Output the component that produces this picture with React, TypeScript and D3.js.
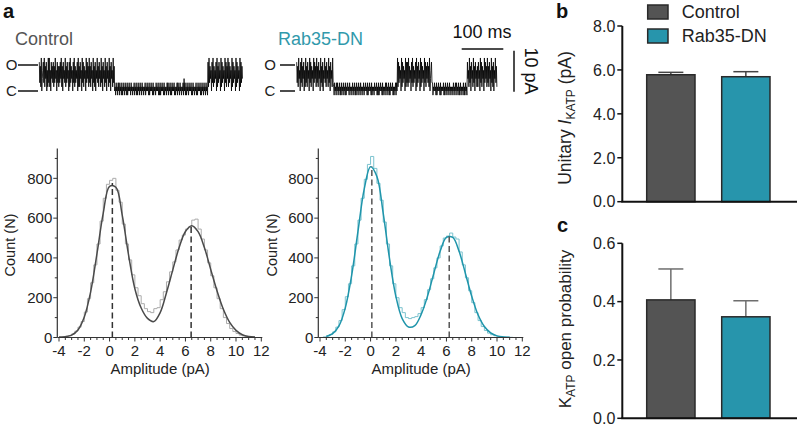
import React from "react";
import * as d3 from "d3";

const FONT = "'Liberation Sans', Arial, Helvetica, sans-serif";
const TEAL = "#2795ac";
const TEAL_TEXT = "#3199ab";
const TEAL_LIGHT = "#7cc3cf";
const DARK = "#545454";

// ---------- traces (digit = current in pA + 1), alternating high / low samples ----------
const TRACE_DT = 1.2; // ms per sample
const controlTrace =
  // open
  "83729146839274816293" + "92618473827394618372" + "73849271846392738461" +
  "82937461839273648192" + "72846193827461938472" + "93728461937281649372" +
  "84629371846293718462" + "937184629371" +
  // closed
  "20312031302130203120" + "31203021312031202130" + "21302031203120312021" +
  "30213120302131203021" + "20312130203021312030" + "21203130213020312130" +
  "20213031203120213041" + "30203120312130203120" + "21302031213020312031" +
  "203120" +
  // open
  "82937461839273648192" + "73846192837461938274" + "92837461928374619283" +
  "7461928374";
const rabTrace =
  // open
  "83729461839274816293" + "72846193827461938472" + "93728461937281649372" +
  "84629371846293" +
  // closed
  "20312031302130203120" + "31203021312031202130" + "21302031203120312021" +
  "30213120302131203021" + "20312130203021312030" + "21203130213020312130" +
  "20213031" +
  // open
  "92837461928374619283" + "82937461839273648192" + "73846192837461938274" +
  "8372914683" +
  // closed
  "30213120302131203021" + "21302031203120312021" + "20312031302130203120" +
  "2130203120" +
  // open
  "84629371846293718462" + "72846193827461938472" + "93728461937281649372";

// ---------- histograms (bin width 0.25 pA) ----------
const BIN_WIDTH = 0.25;
const controlBinStart = -3.75;
const controlHist = [
  3, 5, 9, 18, 32, 52, 80, 128, 195, 275, 365, 470, 585, 700, 770,
  790, 800, 740, 680, 570, 470, 390, 315, 250, 210, 170, 145, 130, 125, 145,
  150, 190, 230, 280, 330, 380, 440, 490, 515, 545, 555, 590, 595, 545, 495,
  440, 375, 310, 250, 195, 145, 100, 70, 45, 30, 20, 12, 8, 5, 3, 2, 0,
];
const rabBinStart = -3.75;
const rabHist = [
  3, 8, 15, 28, 52, 85, 140, 205, 270, 360, 470, 590, 700, 795, 870,
  910, 850, 775, 690, 580, 470, 360, 270, 200, 150, 125, 100, 95, 100, 105,
  120, 150, 190, 240, 295, 350, 400, 460, 500, 510, 525, 505, 495, 430, 365,
  300, 235, 175, 125, 85, 55, 35, 22, 14, 9, 6, 4, 3, 2, 1,
];

// fit curves (sampled every 0.5 pA)
const controlFitX = [
  -4, -3.5, -3, -2.5, -2, -1.5, -1, -0.5, 0, 0.5, 1, 1.5, 2, 2.5, 3, 3.5,
  4, 4.5, 5, 5.5, 6, 6.5, 7, 7.5, 8, 8.5, 9, 9.5, 10, 10.5, 11, 11.5,
];
const controlFitY = [
  2, 4, 12, 38, 103, 228, 420, 625, 760, 755, 615, 415, 245, 148, 96, 80,
  125, 225, 340, 452, 533, 562, 532, 452, 342, 234, 142, 76, 36, 14, 5, 2,
];
const rabFitX = [
  -3.5, -3, -2.5, -2, -1.5, -1, -0.5, 0, 0.5, 1, 1.5, 2, 2.5, 3, 3.5, 4,
  4.5, 5, 5.5, 6, 6.5, 7, 7.5, 8, 8.5, 9, 9.5, 10, 10.5, 11,
];
const rabFitY = [
  5, 19, 58, 149, 311, 532, 747, 858, 809, 624, 395, 207, 95, 53, 60, 116,
  207, 322, 433, 503, 503, 433, 322, 207, 114, 55, 23, 8, 3, 1,
];
const controlPeaks = [0.22, 6.45];
const controlPeakCounts = [776, 562];
const rabPeaks = [0.1, 6.22];
const rabPeakCounts = [862, 512];

const histXTicks = [-4, -2, 0, 2, 4, 6, 8, 10, 12];
const histYTicks = [0, 200, 400, 600, 800];

// ---------- bar charts ----------
const groups = ["Control", "Rab35-DN"];
const groupColors = [DARK, TEAL];
const unitaryMean = [5.78, 5.69];
const unitarySem = [0.11, 0.23];
const unitaryTicks = [0, 2, 4, 6, 8];
const openProbMean = [0.406, 0.348];
const openProbSem = [0.106, 0.055];
const openProbTicks = [0, 0.2, 0.4, 0.6];

function Trace({ data, x0 }: { data: string; x0: number }) {
  const vals = data.split("").map((c) => +c - 1);
  const x = d3.scaleLinear().domain([0, 100]).range([x0, x0 + 41.6]);
  const y = d3.scaleLinear().domain([0, 6.3]).range([91, 65]);
  const line = d3
    .line<number>()
    .x((_, i) => x(i * TRACE_DT))
    .y((d) => y(d));
  return (
    <path d={line(vals) || ""} fill="none" stroke="#000" strokeWidth={0.8} strokeLinejoin="bevel" />
  );
}

function Histogram(props: {
  hist: number[];
  binStart: number;
  fitX: number[];
  fitY: number[];
  peaks: number[];
  peakCounts: number[];
  histColor: string;
  fitColor: string;
  dashColor: string;
  xr: [number, number];
  axisX: number;
  labelX: number;
}) {
  const { hist, binStart, fitX, fitY, peaks, peakCounts, histColor, fitColor, dashColor, xr, axisX, labelX } = props;
  const x = d3.scaleLinear().domain([-4, 12]).range(xr);
  const y = d3.scaleLinear().domain([0, 950]).range([337.5, 148.5]);
  const pts: [number, number][] = [[binStart, 0]];
  hist.forEach((v, i) => pts.push([binStart + i * BIN_WIDTH, v]));
  const lastEdge = binStart + hist.length * BIN_WIDTH;
  pts.push([lastEdge, hist[hist.length - 1]]);
  pts.push([lastEdge, 0]);
  const step = d3
    .line<[number, number]>()
    .x((d) => x(d[0]))
    .y((d) => y(d[1]))
    .curve(d3.curveStepAfter);
  const fit = d3
    .line<number>()
    .x((_, i) => x(fitX[i]))
    .y((d) => y(d))
    .curve(d3.curveCatmullRom.alpha(0.5));
  const minorX = d3.range(-4, 12.001, 0.5);
  const minorY = d3.range(0, 901, 100);
  const axisRight = x(12) + 1;
  return (
    <g fontFamily={FONT}>
      <path d={step(pts) || ""} fill="none" stroke={histColor} strokeWidth={1} />
      <path d={fit(fitY) || ""} fill="none" stroke={fitColor} strokeWidth={1.5} />
      {peaks.map((p, i) => (
        <line
          key={i}
          x1={x(p)}
          x2={x(p)}
          y1={y(0)}
          y2={y(peakCounts[i])}
          stroke={dashColor}
          strokeWidth={1.5}
          strokeDasharray="6 3.5"
        />
      ))}
      <line x1={axisX} x2={axisX} y1={y(950)} y2={y(0)} stroke="#333" strokeWidth={1.2} />
      <line x1={axisX} x2={axisRight} y1={y(0)} y2={y(0)} stroke="#333" strokeWidth={1.2} />
      {minorY.map((t) => (
        <line key={"my" + t} x1={axisX - (t % 200 === 0 ? 4 : 2.5)} x2={axisX} y1={y(t)} y2={y(t)} stroke="#333" strokeWidth={1} />
      ))}
      {minorX.map((t) => (
        <line key={"mx" + t} x1={x(t)} x2={x(t)} y1={y(0)} y2={y(0) + (Math.abs(t % 2) < 1e-6 ? 4 : 2.5)} stroke="#333" strokeWidth={1} />
      ))}
      {histYTicks.map((t) => (
        <text key={"ty" + t} x={axisX - 5} y={y(t)} dy="0.35em" textAnchor="end" fontSize={15} fill="#222">
          {t}
        </text>
      ))}
      {histXTicks.map((t) => (
        <text key={"tx" + t} x={x(t)} y={356} textAnchor="middle" fontSize={15} fill="#222">
          {t}
        </text>
      ))}
      <text x={(xr[0] + xr[1]) / 2} y={374} textAnchor="middle" fontSize={15} fill="#222">
        Amplitude (pA)
      </text>
      <text
        transform={`translate(${labelX},245) rotate(-90)`}
        textAnchor="middle"
        dy="0.35em"
        fontSize={14.5}
        fill="#222"
      >
        Count (N)
      </text>
    </g>
  );
}

function BarChart(props: {
  means: number[];
  sems: number[];
  ticks: number[];
  yr: [number, number];
  fmt: (v: number) => string;
  errColor: string;
}) {
  const { means, sems, ticks, yr, fmt, errColor } = props;
  const x = d3.scaleBand<string>().domain(groups).range([633.35, 783.35]).paddingInner(0.356).paddingOuter(0.178);
  const y = d3.scaleLinear().domain([0, ticks[ticks.length - 1]]).range(yr);
  const axisX = 622.3;
  return (
    <g fontFamily={FONT}>
      {groups.map((g, i) => {
        const bx = x(g) as number;
        const cx = bx + x.bandwidth() / 2;
        return (
          <g key={g}>
            <line x1={cx} x2={cx} y1={y(means[i])} y2={y(means[i] + sems[i])} stroke={errColor} strokeWidth={1.5} />
            <line x1={cx - 12.5} x2={cx + 12.5} y1={y(means[i] + sems[i])} y2={y(means[i] + sems[i])} stroke={errColor} strokeWidth={1.5} />
            <rect
              x={bx}
              y={y(means[i])}
              width={x.bandwidth()}
              height={y(0) - y(means[i])}
              fill={groupColors[i]}
              stroke="#2a2a2a"
              strokeWidth={1.5}
            />
          </g>
        );
      })}
      <line x1={axisX} x2={axisX} y1={y(ticks[ticks.length - 1])} y2={y(0)} stroke="#111" strokeWidth={2} />
      <line x1={axisX - 1} x2={797} y1={y(0)} y2={y(0)} stroke="#111" strokeWidth={2} />
      {ticks.map((t) => (
        <g key={t}>
          <line x1={axisX - 5} x2={axisX} y1={y(t)} y2={y(t)} stroke="#111" strokeWidth={1.5} />
          <text x={axisX - 7} y={y(t)} dy="0.36em" textAnchor="end" fontSize={16} fill="#222">
            {fmt(t)}
          </text>
        </g>
      ))}
    </g>
  );
}

export default function App() {
  return (
    <svg
      width={800}
      height={427}
      viewBox="0 0 800 427"
      style={{ position: "absolute", left: 0, top: 0, background: "#fff" }}
      fontFamily={FONT}
    >
      <rect width={800} height={427} fill="#fff" />
      <text x={3} y={18} fontSize={20} fontWeight="bold" fill="#111">a</text>
      <text x={556} y={18} fontSize={20} fontWeight="bold" fill="#111">b</text>
      <text x={557} y={232} fontSize={20} fontWeight="bold" fill="#111">c</text>

      <text x={15} y={45} fontSize={18} fill="#555">Control</text>
      <text x={278} y={45} fontSize={18} fill={TEAL_TEXT}>Rab35-DN</text>
      <text x={11.5} y={65} dy="0.36em" textAnchor="middle" fontSize={15} fill="#222">O</text>
      <text x={11.5} y={91} dy="0.36em" textAnchor="middle" fontSize={15} fill="#222">C</text>
      <line x1={18} x2={38} y1={65} y2={65} stroke="#111" strokeWidth={1.5} />
      <line x1={18} x2={38} y1={91} y2={91} stroke="#111" strokeWidth={1.5} />
      <text x={270} y={65} dy="0.36em" textAnchor="middle" fontSize={15} fill="#222">O</text>
      <text x={270} y={91} dy="0.36em" textAnchor="middle" fontSize={15} fill="#222">C</text>
      <line x1={280} x2={295} y1={65} y2={65} stroke="#111" strokeWidth={1.5} />
      <line x1={280} x2={295} y1={91} y2={91} stroke="#111" strokeWidth={1.5} />
      <Trace data={controlTrace} x0={39.3} />
      <Trace data={rabTrace} x0={296.7} />
      <line x1={461.7} x2={503.3} y1={49} y2={49} stroke="#111" strokeWidth={1.5} />
      <text x={482} y={38} textAnchor="middle" fontSize={18} fill="#111">100 ms</text>
      <line x1={514} x2={514} y1={50.7} y2={91.7} stroke="#111" strokeWidth={1.5} />
      <text transform="translate(525,71) rotate(90)" textAnchor="middle" fontSize={18} fill="#111">10 pA</text>

      <Histogram
        hist={controlHist}
        binStart={controlBinStart}
        fitX={controlFitX}
        fitY={controlFitY}
        peaks={controlPeaks}
        peakCounts={controlPeakCounts}
        histColor="#ababab"
        fitColor="#4a4a4a"
        dashColor="#333"
        xr={[59, 261.3]}
        axisX={57.3}
        labelX={10}
      />
      <Histogram
        hist={rabHist}
        binStart={rabBinStart}
        fitX={rabFitX}
        fitY={rabFitY}
        peaks={rabPeaks}
        peakCounts={rabPeakCounts}
        histColor={TEAL_LIGHT}
        fitColor="#1f95ab"
        dashColor="#555"
        xr={[320, 522.3]}
        axisX={318.3}
        labelX={271.5}
      />

      <BarChart
        means={unitaryMean}
        sems={unitarySem}
        ticks={unitaryTicks}
        yr={[201.7, 26]}
        fmt={(v) => v.toFixed(1)}
        errColor="#444"
      />
      <text transform="translate(571,118) rotate(-90)" textAnchor="middle" fontSize={17.5} fill="#222">
        Unitary <tspan fontStyle="italic">I</tspan>
        <tspan fontSize={12} dy={4}>KATP</tspan>
        <tspan dy={-4}> (pA)</tspan>
      </text>
      {groups.map((g, i) => (
        <g key={g}>
          <rect x={647.7} y={5 + i * 24} width={20.3} height={14} fill={groupColors[i]} stroke="#2a2a2a" strokeWidth={1.5} />
          <text x={681.7} y={12 + i * 24} dy="0.36em" fontSize={18} fill="#222">{g}</text>
        </g>
      ))}

      <BarChart
        means={openProbMean}
        sems={openProbSem}
        ticks={openProbTicks}
        yr={[418.3, 243.3]}
        fmt={(v) => v.toFixed(1)}
        errColor="#6e6e6e"
      />
      <text transform="translate(571,329) rotate(-90)" textAnchor="middle" fontSize={17} fill="#222">
        K<tspan fontSize={12} dy={4}>ATP</tspan>
        <tspan dy={-4}> open probability</tspan>
      </text>
    </svg>
  );
}
